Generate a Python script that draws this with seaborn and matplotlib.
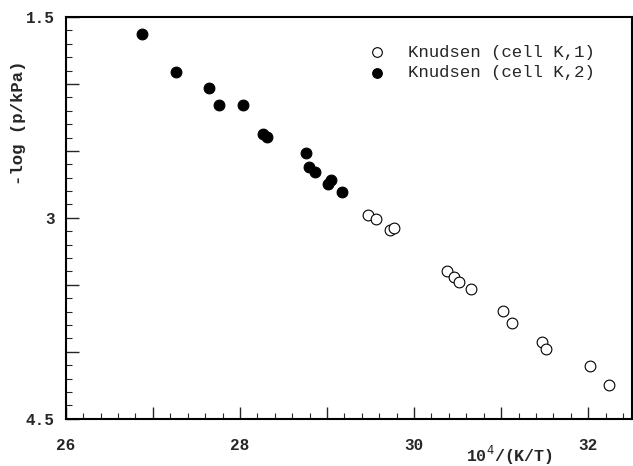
import matplotlib
matplotlib.use("Agg")
import matplotlib.pyplot as plt
import seaborn as sns
import pandas as pd
from matplotlib.ticker import MultipleLocator

sns.set_style("ticks")
plt.rcParams['font.family'] = ['Liberation Mono', 'DejaVu Sans Mono']

# Knudsen (cell K,1) - open circles
x_k1 = [29.475, 29.563, 29.724, 29.774, 30.375, 30.464, 30.513, 30.651,
        31.027, 31.123, 31.468, 31.517, 32.023, 32.234]
y_k1 = [2.978, 3.007, 3.090, 3.077, 3.398, 3.438, 3.480, 3.528,
        3.694, 3.784, 3.925, 3.983, 4.104, 4.246]

# Knudsen (cell K,2) - filled circles
x_k2 = [26.870, 27.268, 27.640, 27.755, 28.031, 28.261, 28.307, 28.759,
        28.797, 28.866, 29.008, 29.046, 29.172]
y_k2 = [1.629, 1.913, 2.032, 2.154, 2.154, 2.376, 2.393, 2.513,
        2.622, 2.654, 2.749, 2.716, 2.804]

labels = ["Knudsen (cell K,1)", "Knudsen (cell K,2)"]
x_major = [26, 27, 28, 29, 30, 31, 32]
x_labeled = [26, 28, 30, 32]
y_major = [1.5, 2.0, 2.5, 3.0, 3.5, 4.0, 4.5]
y_labeled = [1.5, 3.0, 4.5]

df1 = pd.DataFrame({"x": x_k1, "y": y_k1})
df2 = pd.DataFrame({"x": x_k2, "y": y_k2})

fig = plt.figure(figsize=(6.33, 4.66), dpi=100)
ax = fig.add_axes([0.104, 0.1015, 0.894, 0.862])

sns.scatterplot(data=df1, x="x", y="y", ax=ax, marker="o", s=60,
                facecolor="white", edgecolor="black", linewidth=0.8,
                label=labels[0])
sns.scatterplot(data=df2, x="x", y="y", ax=ax, marker="o", s=60,
                color="black", edgecolor="black", linewidth=0.8,
                label=labels[1])

ax.set_xlim(26, 32.5)
ax.set_ylim(4.5, 1.5)

ax.set_xticks(x_major)
ax.set_xticklabels([str(v) if v in x_labeled else "" for v in x_major])
ax.xaxis.set_minor_locator(MultipleLocator(0.2))
ax.set_yticks(y_major)
ax.set_yticklabels([("%g" % v) if v in y_labeled else "" for v in y_major])
ax.yaxis.set_minor_locator(MultipleLocator(0.1))

ax.tick_params(which="major", direction="in", length=9, width=1.0, labelsize=11.5,
               top=False, right=False)
ax.tick_params(axis="x", which="major", pad=14)
ax.tick_params(axis="y", which="major", pad=8)
ax.tick_params(which="minor", direction="in", length=4, width=0.8, top=False, right=False)
for lab in ax.get_xticklabels() + ax.get_yticklabels():
    lab.set_fontweight("bold")

for s in ax.spines.values():
    s.set_visible(True)
    s.set_linewidth(1.5)
    s.set_color("black")

ax.set_xlabel(r"10$^4$/(K/T)", fontsize=12, fontweight="bold")
ax.xaxis.set_label_coords(0.784, -0.062)
ax.set_ylabel("-log (p/kPa)", fontsize=12.5, fontweight="bold")
ax.yaxis.set_label_coords(-0.071, 0.736)

leg = ax.legend(loc="upper right", bbox_to_anchor=(0.962, 0.97), frameon=False,
                fontsize=12.5, handletextpad=0.8, labelspacing=0.3,
                markerscale=0.9)

fig.savefig("out.png", dpi=100)
